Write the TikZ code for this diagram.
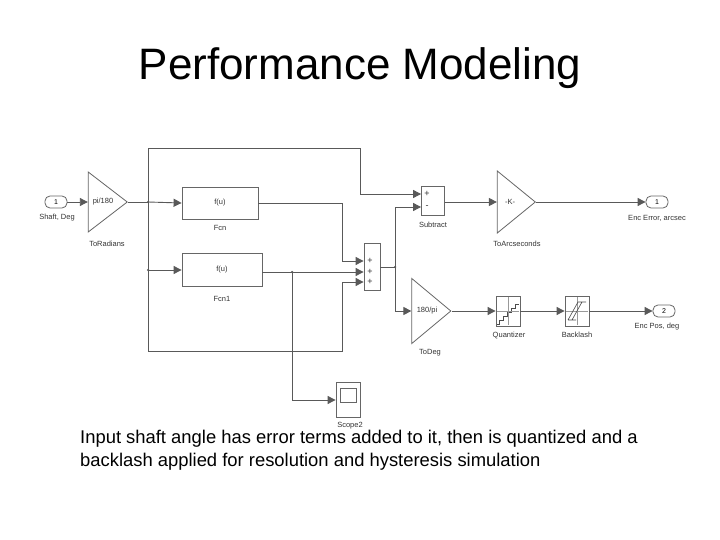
\documentclass[tikz,border=0pt]{standalone}
\usepackage{fontspec}
\setmainfont{Liberation Sans}
\usetikzlibrary{positioning,shapes.geometric,arrows.meta}

\tikzset{
  wire/.style={draw=black!65, line width=0.9pt},
  sig/.style={wire, -{Triangle[length=8pt,width=8pt]}},
  blk/.style={draw=black!60, line width=0.8pt, fill=white, inner sep=0pt},
  gain/.style={blk, isosceles triangle, isosceles triangle stretches,
    minimum width=60pt, minimum height=39pt},
  port/.style={blk, rounded corners=5pt, minimum width=22pt, minimum height=12pt, font=\fontsize{7}{7}\selectfont},
  lbl/.style={font=\fontsize{7.5}{8}\selectfont, text=black!80, inner sep=0pt},
  sgn/.style={lbl, font=\fontsize{9}{9}\selectfont},
  dot/.style={circle, fill=black!65, inner sep=0pt, minimum size=2.5pt}
}

\begin{document}
\begin{tikzpicture}[x=1pt,y=-1pt]
  \useasboundingbox (0,0) rectangle (720,540);

  \node[font=\fontsize{44}{50}\selectfont] (title) at (360,68) {Performance Modeling};

  % blocks
  \node[port] (in1) at (56,202) {1};
  \node[lbl] at (57,218) {Shaft, Deg};
  \node[gain] (torad) at (103,202) {};
  \node[lbl] at (103,202) {pi/180};
  \node[lbl] at (107,244) {ToRadians};

  \node[blk, minimum width=76pt, minimum height=32pt] (fcn) at (220,203) {};
  \node[lbl] at (220,203) {f(u)};
  \node[lbl] at (220,228) {Fcn};
  \node[blk, minimum width=80pt, minimum height=33pt] (fcn1) at (222,270) {};
  \node[lbl] at (222,270) {f(u)};
  \node[lbl] at (222,299) {Fcn1};

  \node[blk, minimum width=16pt, minimum height=47pt] (sum) at (372,267) {};
  \foreach \y in {261,272,282} \node[sgn] at (370,\y) {+};

  \node[blk, minimum width=23pt, minimum height=29pt] (sub) at (433,201) {};
  \node[sgn] at (427,194) {+};
  \node[sgn] at (427,207) {-};
  \node[lbl] at (433,225) {Subtract};

  \node[gain, minimum width=62pt, minimum height=38pt] (toarc) at (512,202) {};
  \node[lbl] at (510,202) {-K-};
  \node[lbl] at (517,244) {ToArcseconds};
  \node[port] (out1) at (657,202) {1};
  \node[lbl] at (657,218) {Enc Error, arcsec};

  \node[gain, minimum width=65pt, minimum height=39pt] (todeg) at (427,311) {};
  \node[lbl] at (427,311) {180/pi};
  \node[lbl] at (430,353) {ToDeg};

  \node[blk, minimum width=24pt, minimum height=30pt] (quant) at (508,311) {};
  \draw[black!70, line width=0.6pt] (497,324) -- (499,324) \foreach \i in {0,...,4} {-- ++(0,-4) -- ++(4,0)};
  \draw[black!40, line width=0.4pt] (508,297) -- (508,325) (497,311) -- (519,311);
  \node[lbl] at (509,335) {Quantizer};

  \node[blk, minimum width=24pt, minimum height=30pt] (back) at (577,311) {};
  \draw[black!40, line width=0.4pt] (577,297) -- (577,325) (566,311) -- (588,311);
  \draw[black!70, line width=0.6pt] (568,320) -- (572,320) -- (582,302) -- (586,302) (572,320) -- (576,320) (582,302) -- (578,302) -- (568,320);
  \node[lbl] at (577,335) {Backlash};
  \node[port] (out2) at (664,311) {2};
  \node[lbl] at (657,327) {Enc Pos, deg};

  \node[blk, minimum width=24pt, minimum height=35pt] (scope) at (348,400) {};
  \draw[black!60, line width=0.6pt] (340,388) rectangle (356,402);
  \node[lbl] at (350,426) {Scope2};

  % wires
  \coordinate (b1) at (148,202);
  \coordinate (b2) at (292,272);
  \coordinate (b3) at (395,267);
  \draw[sig] (in1) -- (torad.west);
  \draw[wire] (torad.apex) -- (b1);
  \draw[sig] (b1) -- (fcn.west);
  \draw[sig] (b1 |- fcn1) -- (fcn1.west);
  \draw[sig] (b1) |- (360,148) |- (sub.west |- 0,194);
  \draw[sig] (b1) |- (342,351) |- (sum.west |- 0,282);
  \draw[sig] (fcn.east) -| (342,261) -- (sum.west |- 0,261);
  \draw[sig] (fcn1.east |- 0,272) -- (sum.west |- 0,272);
  \draw[sig] (b2) |- (scope.west);
  \draw[wire] (sum.east) -- (b3);
  \draw[sig] (b3) |- (sub.west |- 0,207);
  \draw[sig] (b3) |- (todeg.west);
  \draw[sig] (sub.east |- 0,202) -- (toarc.west);
  \draw[sig] (toarc.apex) -- (out1.west);
  \draw[sig] (todeg.apex) -- (quant.west);
  \draw[sig] (quant.east) -- (back.west);
  \draw[sig] (back.east) -- (out2.west);
  \foreach \p in {b1,b2,b3} \node[dot] at (\p) {};
  \node[dot] at (b1 |- fcn1) {};

  \node[font=\fontsize{18.4}{23}\selectfont, align=left, anchor=north west, inner sep=0pt] (cap) at (80,430)
    {Input shaft angle has error terms added to it, then is quantized and a\\backlash applied for resolution and hysteresis simulation};
\end{tikzpicture}
\end{document}
